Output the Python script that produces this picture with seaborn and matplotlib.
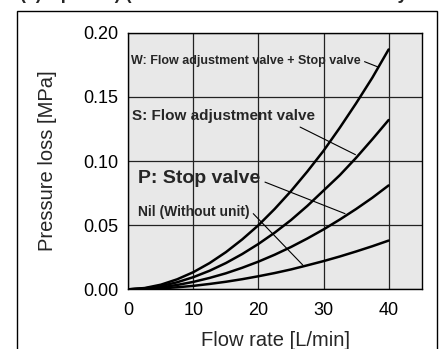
import matplotlib
matplotlib.use("Agg")
import matplotlib.pyplot as plt
from matplotlib.patches import Rectangle
import pandas as pd
import seaborn as sns

# Flow rate [L/min]
flow = [0, 2.5, 5, 7.5, 10, 12.5, 15, 17.5, 20, 22.5, 25, 27.5, 30, 32.5, 35, 37.5, 40]

# Pressure loss [MPa] per unit option
loss_w = [0, 0.0010, 0.0036, 0.0078, 0.0134, 0.0205, 0.0290, 0.0389, 0.0500,
          0.0627, 0.0766, 0.0918, 0.1080, 0.1260, 0.1450, 0.1650, 0.1870]
loss_s = [0, 0.0007, 0.0025, 0.0055, 0.0095, 0.0145, 0.0205, 0.0275, 0.0354,
          0.0442, 0.0540, 0.0650, 0.0770, 0.0890, 0.1025, 0.1170, 0.1320]
loss_p = [0, 0.0004, 0.0015, 0.0034, 0.0058, 0.0089, 0.0125, 0.0168, 0.0216,
          0.0270, 0.0330, 0.0396, 0.0467, 0.0544, 0.0626, 0.0714, 0.0810]
loss_nil = [0, 0.0002, 0.0007, 0.0016, 0.0027, 0.0042, 0.0059, 0.0079, 0.0102,
            0.0127, 0.0155, 0.0187, 0.0220, 0.0256, 0.0295, 0.0336, 0.0380]

series = {"W": loss_w, "S": loss_s, "P": loss_p, "Nil": loss_nil}

x_ticks = [0, 10, 20, 30, 40]
y_ticks = [0.00, 0.05, 0.10, 0.15, 0.20]
y_tick_labels = ["0.00", "0.05", "0.10", "0.15", "0.20"]

df = pd.concat(
    [pd.DataFrame({"flow": flow, "loss": vals, "unit": name}) for name, vals in series.items()],
    ignore_index=True,
)

sns.set_theme(style="white")
plt.rcParams["font.family"] = ["Liberation Sans", "DejaVu Sans"]

fig = plt.figure(figsize=(4.44, 3.49), dpi=100)
ax = fig.add_axes([0.289, 0.171, 0.661, 0.735])
ax.set_facecolor("#e8e8e8")

sns.lineplot(data=df, x="flow", y="loss", hue="unit",
             palette={k: "black" for k in series}, linewidth=1.8,
             legend=False, ax=ax, zorder=3)

ax.set_xlim(0, 45.1)
ax.set_ylim(0, 0.20)
ax.set_xticks(x_ticks)
ax.set_yticks(y_ticks)
ax.set_yticklabels(y_tick_labels)
ax.tick_params(axis="both", length=0, labelsize=13, colors="black")
ax.tick_params(axis="x", pad=9)
ax.tick_params(axis="y", pad=7)
ax.grid(True, color="#222222", linewidth=0.9, zorder=1)
for sp in ax.spines.values():
    sp.set_color("black")
    sp.set_linewidth(1.0)

ax.set_xlabel("Flow rate [L/min]", fontsize=14.5, labelpad=9)
ax.set_ylabel("Pressure loss [MPa]", fontsize=14.5, labelpad=19)

# curve labels with leader lines
lead = dict(color="black", linewidth=0.8, zorder=4)
ax.text(0.4, 0.1778, "W: Flow adjustment valve + Stop valve", fontsize=9,
        fontweight="bold", va="center", zorder=5)
ax.plot([36.3, 38.3], [0.1775, 0.1735], **lead)

ax.text(0.5, 0.1348, "S: Flow adjustment valve", fontsize=11,
        fontweight="bold", va="center", zorder=5)
ax.plot([26.4, 34.9], [0.1265, 0.1050], **lead)

ax.text(1.5, 0.0867, "P: Stop valve", fontsize=14, fontweight="bold", va="center", zorder=5)
ax.plot([21.0, 33.3], [0.0836, 0.0590], **lead)

ax.text(1.5, 0.0606, "Nil (Without unit)", fontsize=10, fontweight="bold",
        va="center", zorder=5)
ax.plot([19.2, 26.8], [0.0590, 0.0190], **lead)

# outer frame around the chart panel
fig.patches.append(Rectangle((17 / 444, -0.05), (437 - 17) / 444, 1.05 - 10.7 / 349,
                             transform=fig.transFigure, fill=False, edgecolor="black",
                             linewidth=1.0, clip_on=False))

# panel heading, running off the top edge
fig.text(20 / 444, 1.0 + 1 / 349, "(2) Options) (Pressure loss characteristics by unit type)",
         fontsize=13, fontweight="bold", va="baseline", ha="left")

fig.savefig("out.png", dpi=100)
